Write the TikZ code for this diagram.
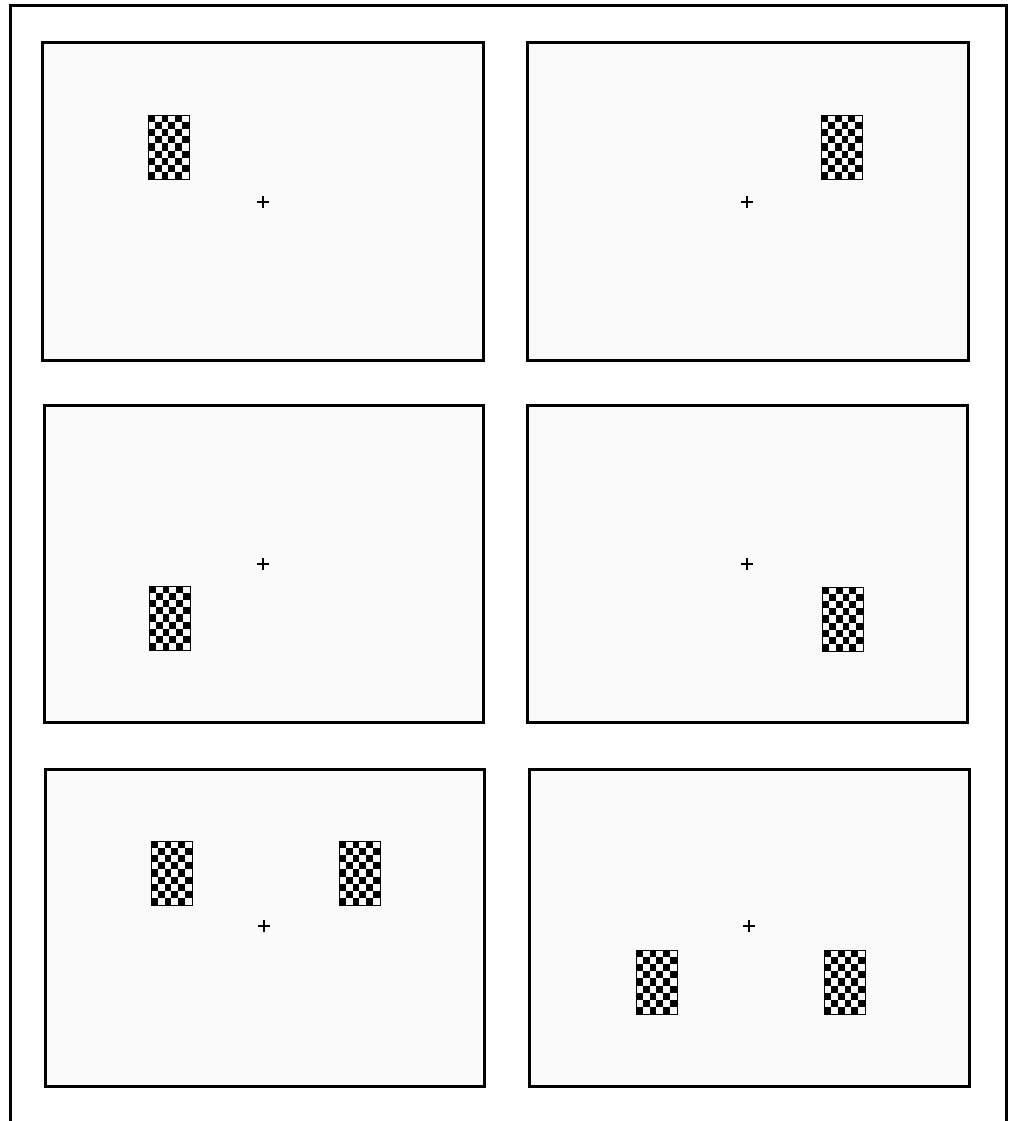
\documentclass[tikz,border=0pt]{standalone}
\usetikzlibrary{calc}

% checkerboard, 6 x 9 cells, top left cell black
\newcommand{\chkboard}[2]{%
  \foreach \c in {0,...,5}{
    \foreach \r in {0,...,8}{
      \pgfmathtruncatemacro{\odd}{mod(\c+\r,2)}
      \ifnum\odd=0
        \fill[black] ({#1+\c*6.83},{#2+\r*7.1}) rectangle ++(6.83,7.1);
      \fi
    }
  }
  \draw[black, line width=0.6] (#1,#2) rectangle ++(41,63.9);
}

\begin{document}
\begin{tikzpicture}[
  x=1pt, y=-1pt,
  frame/.style={line width=3pt, black},
  panel/.style={line width=3pt, black, fill=gray!4},
  fix/.style={line width=1.4pt, black},
]
\useasboundingbox (0,0) rectangle (1015,1121);

% === outer frame (open at the bottom) ===
\draw[frame] (10.5,1121) -- (10.5,6) -- (1006.5,6) -- (1006.5,1121);

% === panels ===
\draw[panel] (42.5,42.5) rectangle (483,360);
\draw[panel] (527,42.5) rectangle (968.5,360);
\draw[panel] (44,405) rectangle (483,722);
\draw[panel] (527,405) rectangle (967.5,722);
\draw[panel] (45,769) rectangle (484,1086);
\draw[panel] (529,769) rectangle (969.5,1086);

% === fixation crosses ===
\foreach \fx/\fy in {263/202, 747/202, 263/564, 747/564, 264/926, 749/926}{
  \draw[fix] (\fx-6,\fy) -- (\fx+6,\fy);
  \draw[fix] (\fx,\fy-6) -- (\fx,\fy+6);
}

% === checkerboards ===
\chkboard{148}{115}
\chkboard{821}{115}
\chkboard{149}{586}
\chkboard{822}{587}
\chkboard{151}{841}
\chkboard{339}{841}
\chkboard{636}{950}
\chkboard{824}{950}

\end{tikzpicture}
\end{document}
